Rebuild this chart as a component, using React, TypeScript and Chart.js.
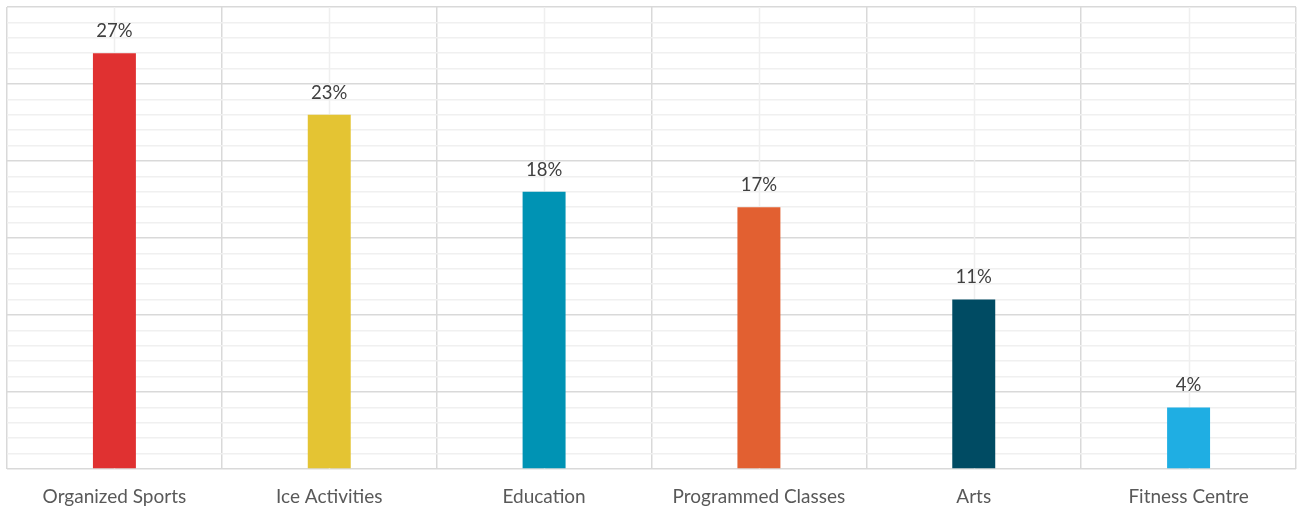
import React, { useEffect, useRef } from "react";
import { Chart, registerables } from "chart.js";

Chart.register(...registerables);

const categories = ["Organized Sports", "Ice Activities", "Education", "Programmed Classes", "Arts", "Fitness Centre"];
const values = [27, 23, 18, 17, 11, 4];
const barColors = ["#E03131", "#E4C433", "#0093B4", "#E26031", "#004B63", "#1FAEE3"];
const yMin = 0;
const yMax = 30;
const yStep = 1;

const FONT = "Lato, 'Open Sans', sans-serif";

const centerLines = {
  id: "centerLines",
  beforeDatasetsDraw(chart: any) {
    const { ctx, chartArea, scales } = chart;
    const x = scales.x;
    ctx.save();
    ctx.strokeStyle = "#EFEFEF";
    ctx.lineWidth = 1.5;
    for (let i = 0; i < categories.length; i++) {
      const px = Math.round(x.getPixelForValue(i)) + 0.5;
      ctx.beginPath();
      ctx.moveTo(px, chartArea.top);
      ctx.lineTo(px, chartArea.bottom);
      ctx.stroke();
    }
    ctx.restore();
  },
};

const valueLabels = {
  id: "valueLabels",
  afterDatasetsDraw(chart: any) {
    const { ctx } = chart;
    const meta = chart.getDatasetMeta(0);
    ctx.save();
    ctx.fillStyle = "#404040";
    ctx.font = `18.5px ${FONT}`;
    ctx.textAlign = "center";
    ctx.textBaseline = "bottom";
    meta.data.forEach((el: any, i: number) => {
      ctx.fillText(values[i] + "%", el.x, el.y - 13);
    });
    ctx.restore();
  },
};

export default function App() {
  const ref = useRef<HTMLCanvasElement | null>(null);
  useEffect(() => {
    document.body.style.margin = "0";
    const chart = new Chart(ref.current!, {
      type: "bar",
      data: {
        labels: categories,
        datasets: [
          {
            data: values,
            backgroundColor: barColors,
            barPercentage: 0.2,
            categoryPercentage: 1,
          },
        ],
      },
      options: {
        animation: false,
        responsive: false,
        maintainAspectRatio: false,
        layout: { padding: { left: 7, right: 1, top: 7, bottom: 0 } },
        plugins: { legend: { display: false }, tooltip: { enabled: false } },
        scales: {
          x: {
            grid: { offset: true, color: "#D9D9D9", lineWidth: 1.5, drawTicks: false },
            border: { display: false },
            ticks: { color: "#595959", font: { family: FONT, size: 19 }, padding: 16, maxRotation: 0 },
            afterFit: (scale: any) => {
              scale.height = 41;
            },
          },
          y: {
            min: yMin,
            max: yMax,
            ticks: { stepSize: yStep, display: false },
            grid: {
              drawTicks: false,
              lineWidth: 1.5,
              color: (c: any) => (c.tick && c.tick.value % 5 === 0 ? "#D9D9D9" : "#F0F0F0"),
            },
            border: { display: false },
          },
        },
      },
      plugins: [centerLines, valueLabels],
    });
    return () => chart.destroy();
  }, []);
  return (
    <div style={{ width: 1297, height: 510 }}>
      <canvas ref={ref} width={1297} height={510} style={{ display: "block" }} />
    </div>
  );
}
